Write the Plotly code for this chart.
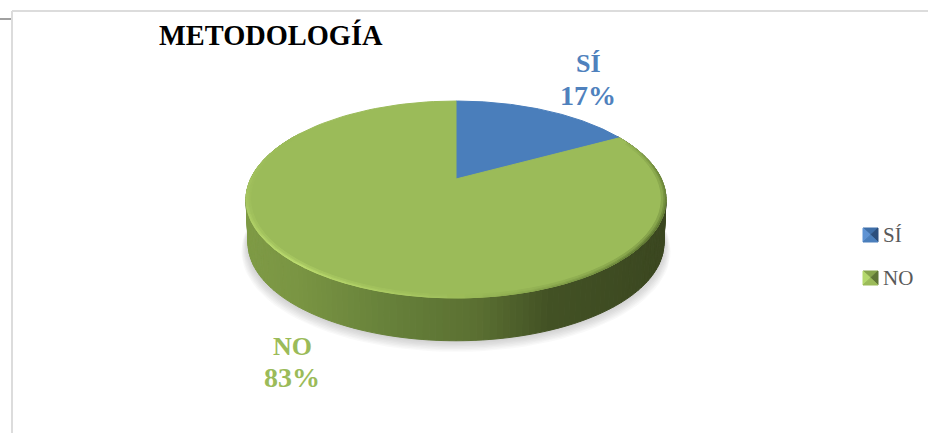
"""
Pie 3D "METODOLOGÍA" dibujado con polígonos en perspectiva
"""
import numpy as np
import plotly.graph_objects as go

# Data
categories = ["SÍ", "NO"]
values = [17, 83]
slice_colors = ["#4a7ebb", "#9bbb59"]
label_colors = ["#4f81bd", "#9bbb59"]
chart_title = "METODOLOGÍA"

WIDTH, HEIGHT = 928, 433
FONT = "Liberation Serif"

# perspective of the disc, in pixels of the plot
CX, CY = 456, 179
A, B, K = 205.4, 94.2, 0.208
DEPTH, BOTTOM_SCALE = 44, 0.99


def project(theta, r=1.0, drop=0.0, scale=1.0):
    """theta in degrees, clockwise from the top of the disc"""
    t = np.radians(theta)
    u, v = r * np.sin(t), r * np.cos(t)
    w = 1 + K * v
    return CX + scale * A * u / w, CY + drop - scale * B * v / w


def mix(stops, pos):
    xs = [s[0] for s in stops]
    rgb = [np.interp(pos, xs, [int(s[1][i:i + 2], 16) for s in stops]) for i in (1, 3, 5)]
    return "rgb(%d,%d,%d)" % tuple(rgb)


def polygon(fig, x, y, color, edge=True):
    fig.add_trace(go.Scatter(
        x=list(x), y=list(y), mode="lines", fill="toself", fillcolor=color,
        line=dict(color=color if edge else "rgba(0,0,0,0)", width=1),
        hoverinfo="skip", showlegend=False,
    ))


fig = go.Figure()

# Soft shadow under the disc
ring = np.linspace(0, 360, 121)
for i in range(8):
    sx, sy = project(ring, drop=DEPTH + 1 + i * 0.9, scale=BOTTOM_SCALE + 0.004 + i * 0.004)
    polygon(fig, sx, sy, "rgba(90,90,90,0.035)", edge=False)

# Side wall, back to front
wall_stops = [(0.0, "#7f9b46"), (0.12, "#7a9543"), (0.35, "#66803a"),
              (0.55, "#5b7032"), (0.72, "#435225"), (1.0, "#3b4720")]
step = 1.5
for theta in np.arange(60, 300, step):
    arc = np.array([theta, theta + step])
    x1, y1 = project(arc)
    x2, y2 = project(arc[::-1], drop=DEPTH, scale=BOTTOM_SCALE)
    frac = (np.mean(x1) - (CX - 210)) / 420
    polygon(fig, np.r_[x1, x2, x1[0]], np.r_[y1, y2, y1[0]], mix(wall_stops, frac))

# Top face, one wedge per category
start = 0
for value, color in zip(values, slice_colors):
    sweep = 360 * value / sum(values)
    arc = np.linspace(start, start + sweep, 120)
    x, y = project(arc)
    polygon(fig, np.r_[CX, x, CX], np.r_[CY, y, CY], color)
    start += sweep

# Bevel on the rim of the top face
rim_stops = [(60, "#9bbb59"), (85, "#6f8a3b"), (125, "#5f7833"), (155, "#7f9c47"),
             (185, "#a5c560"), (220, "#bfe072"), (262, "#a6c561"), (300, "#9bbb59")]
radii = [1.0, 0.993, 0.986, 0.979]
for j in range(len(radii) - 1):
    weight = 1 - j / (len(radii) - 1)
    for theta in np.arange(66, 300, 4):
        arc = np.array([theta, theta + 2, theta + 4])
        x1, y1 = project(arc, r=radii[j])
        x2, y2 = project(arc[::-1], r=radii[j + 1])
        edge = mix(rim_stops, theta + 2)
        r, g, b = [int(c) for c in edge[4:-1].split(",")]
        color = "rgb(%d,%d,%d)" % (155 + (r - 155) * weight, 187 + (g - 187) * weight, 89 + (b - 89) * weight)
        polygon(fig, np.r_[x1, x2, x1[0]], np.r_[y1, y2, y1[0]], color)

# Legend keys with the pyramid look of the original
key_shades = {
    "SÍ": ["#3f6fa8", "#5f93d3", "#2c4f7c", "#4a7ebb"],
    "NO": ["#86a44c", "#b4d86c", "#5f7636", "#9bbb59"],
}
for name, ky in zip(categories, [235, 278]):
    x0, x1, y0, y1 = 863, 878, ky - 7, ky + 7
    mx, my = (x0 + x1) / 2, (y0 + y1) / 2
    top, left, right, bottom = key_shades[name]
    polygon(fig, [x0, x1, mx, x0], [y0, y0, my, y0], top)
    polygon(fig, [x0, x0, mx, x0], [y0, y1, my, y0], left)
    polygon(fig, [x1, x1, mx, x1], [y0, y1, my, y0], right)
    polygon(fig, [x0, x1, mx, x0], [y1, y1, my, y1], bottom)
    fig.add_annotation(x=881, y=ky, text=name, showarrow=False, xanchor="left", yanchor="middle",
                       font=dict(family=FONT, size=21, color="#595959"))

# Data labels
label_pos = [(588, 63, 95), (292, 346, 377)]
for name, value, color, (lx, ly1, ly2) in zip(categories, values, label_colors, label_pos):
    fig.add_annotation(x=lx, y=ly1, text=f"<b>{name}</b>", showarrow=False,
                       font=dict(family=FONT, size=26, color=color))
    fig.add_annotation(x=lx, y=ly2, text=f"<b>{value}%</b>", showarrow=False,
                       font=dict(family=FONT, size=28, color=color))

fig.add_annotation(x=157, y=35, text=f"<b>{chart_title}</b>", showarrow=False, xanchor="left",
                   font=dict(family=FONT, size=28.4, color="#000000"))

# Frame of the pasted chart
fig.add_shape(type="line", x0=12, x1=928, y0=11, y1=11, line=dict(color="#dcdcdc", width=2))
fig.add_shape(type="line", x0=12, x1=12, y0=11, y1=433, line=dict(color="#dcdcdc", width=2))
fig.add_shape(type="line", x0=0, x1=11, y0=19, y1=19, line=dict(color="#808080", width=1.5))

fig.update_layout(
    width=WIDTH,
    height=HEIGHT,
    margin=dict(l=0, r=0, t=0, b=0),
    paper_bgcolor="#ffffff",
    plot_bgcolor="#ffffff",
    showlegend=False,
    xaxis=dict(visible=False, range=[0, WIDTH], fixedrange=True),
    yaxis=dict(visible=False, range=[HEIGHT, 0], fixedrange=True),
)

# the page margin would push the chart 8px off the window
fig.write_html(
    "out.html",
    config=dict(displayModeBar=False),
    post_script="document.body.style.margin='0';document.body.style.overflow='hidden';",
)
